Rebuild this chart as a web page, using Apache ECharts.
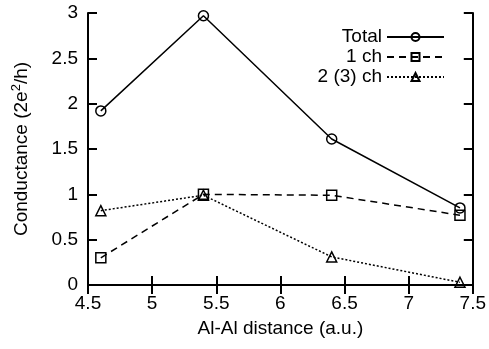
<!DOCTYPE html>
<html>
<head>
<meta charset="utf-8">
<script src="https://cdn.jsdelivr.net/npm/echarts@6/dist/echarts.min.js"></script>
<style>
  html, body { margin: 0; padding: 0; background: #fff; }
  #chart { width: 489px; height: 349px; }
</style>
</head>
<body>
<div id="chart"></div>
<script>
var distance = [4.6, 5.4, 6.4, 7.4];
var total = [1.92, 2.97, 1.61, 0.85];
var oneCh = [0.30, 1.00, 0.99, 0.77];
var twoCh = [0.82, 0.99, 0.31, 0.03];

function pairs(ys) {
  var out = [];
  for (var i = 0; i < distance.length; i++) out.push([distance[i], ys[i]]);
  return out;
}

var font = 'Liberation Sans, Arial, sans-serif';
var chart = echarts.init(document.getElementById('chart'));

var frame = { show: true, lineStyle: { color: '#000', width: 2 } };
var tick = { show: true, inside: true, length: 9, lineStyle: { color: '#000', width: 2 } };

var option = {
  animation: false,
  backgroundColor: '#fff',
  grid: { left: 88, right: 15, top: 13, bottom: 64 },
  legend: {
    orient: 'vertical',
    right: 39,
    top: 22,
    align: 'right',
    itemWidth: 57,
    itemHeight: 10,
    itemGap: 0,
    textStyle: { fontFamily: font, fontSize: 19, color: '#000', lineHeight: 20 },
    data: ['Total', '1 ch', '2 (3) ch']
  },
  xAxis: [{
    type: 'value', min: 4.5, max: 7.5, interval: 0.5,
    name: 'Al-Al distance (a.u.)', nameLocation: 'middle', nameGap: 34,
    nameTextStyle: { fontFamily: font, fontSize: 19, color: '#000' },
    axisLine: frame, axisTick: tick, splitLine: { show: false },
    axisLabel: { fontFamily: font, fontSize: 19, color: '#000', margin: 9 }
  }, {
    type: 'value', position: 'top', min: 4.5, max: 7.5, interval: 0.5,
    axisLine: frame, axisTick: tick, splitLine: { show: false },
    axisLabel: { show: false }
  }],
  yAxis: [{
    type: 'value', min: 0, max: 3, interval: 0.5,
    name: '{a|Conductance (2e}{s|2}{a|/h)}', nameLocation: 'middle', nameGap: 54,
    nameTextStyle: {
      fontFamily: font, fontSize: 19, color: '#000',
      rich: {
        a: { fontFamily: font, fontSize: 19, color: '#000', lineHeight: 24 },
        s: { fontFamily: font, fontSize: 13, color: '#000', lineHeight: 13, verticalAlign: 'top' }
      }
    },
    axisLine: frame, axisTick: tick, splitLine: { show: false },
    axisLabel: { fontFamily: font, fontSize: 19, color: '#000', margin: 10 }
  }, {
    type: 'value', position: 'right', min: 0, max: 3, interval: 0.5,
    axisLine: frame, axisTick: tick, splitLine: { show: false },
    axisLabel: { show: false }
  }],
  series: [{
    name: 'Total', type: 'line', data: pairs(total),
    symbol: 'circle', symbolSize: 10,
    lineStyle: { color: '#000', width: 1.5, type: 'solid' },
    itemStyle: { color: 'transparent', borderColor: '#000', borderWidth: 1.5 }
  }, {
    name: '1 ch', type: 'line', data: pairs(oneCh),
    symbol: 'rect', symbolSize: 10,
    lineStyle: { color: '#000', width: 1.5, type: [7, 5] },
    itemStyle: { color: 'transparent', borderColor: '#000', borderWidth: 1.5 }
  }, {
    name: '2 (3) ch', type: 'line', data: pairs(twoCh),
    symbol: 'triangle', symbolSize: 10,
    lineStyle: { color: '#000', width: 1.5, type: [2, 2] },
    itemStyle: { color: 'transparent', borderColor: '#000', borderWidth: 1.5 }
  }]
};
chart.setOption(option);
</script>
</body>
</html>
